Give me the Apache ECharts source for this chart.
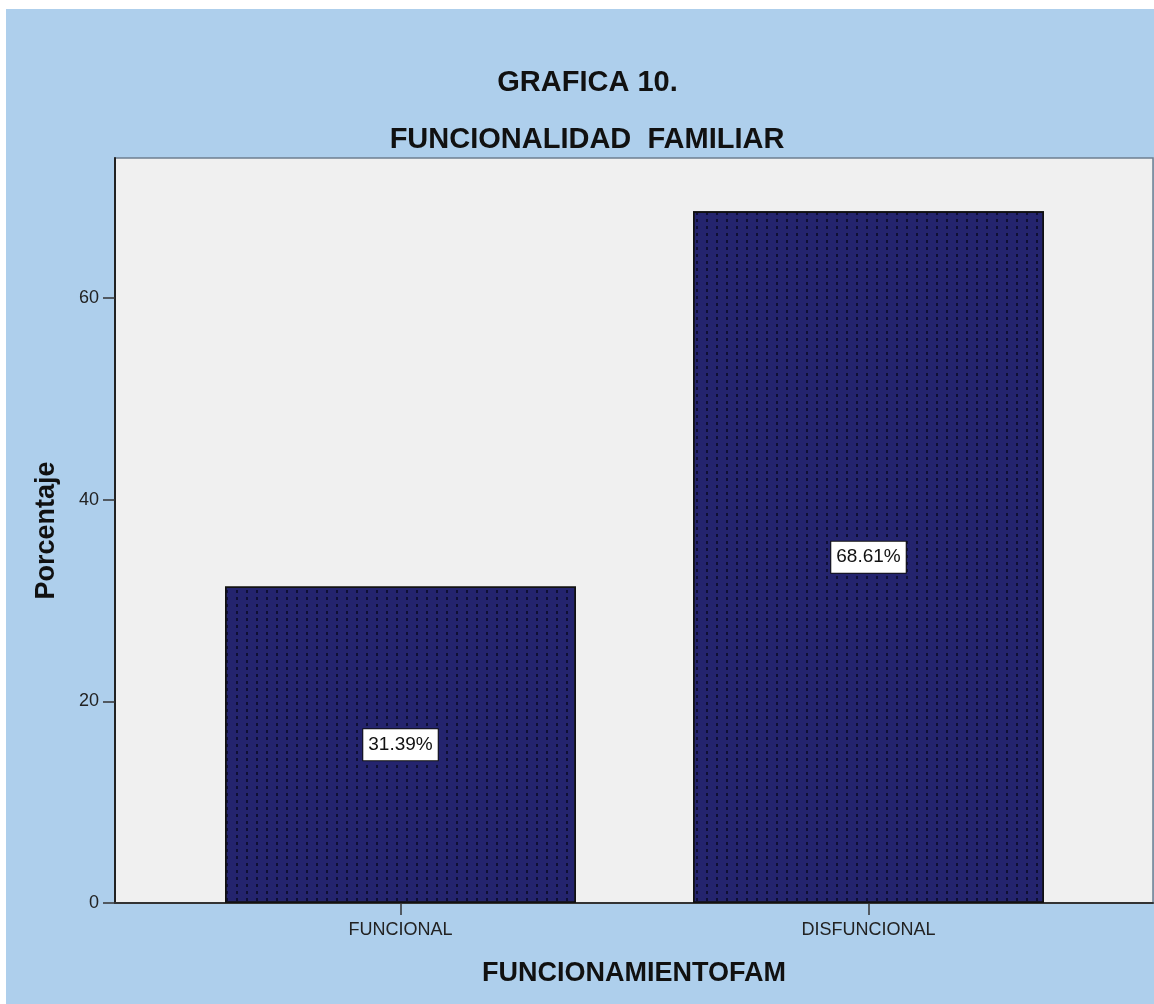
<!DOCTYPE html>
<html>
<head>
<meta charset="utf-8">
<script src="https://cdn.jsdelivr.net/npm/echarts@6/dist/echarts.min.js"></script>
<style>
html,body{margin:0;padding:0;background:#ffffff;}
#c{position:absolute;left:6px;top:9px;width:1148px;height:995px;}
</style>
</head>
<body>
<div id="c"></div>
<script>
const titleMain = 'GRAFICA 10.';
const titleSub = 'FUNCIONALIDAD  FAMILIAR';
const categories = ['FUNCIONAL', 'DISFUNCIONAL'];
const percentages = [31.39, 68.61];
const yTicks = [0, 20, 40, 60];
const yMax = 73.9;
const xName = 'FUNCIONAMIENTOFAM';
const yName = 'Porcentaje';

const FONT = "'Liberation Sans', Arial, sans-serif";
const chart = echarts.init(document.getElementById('c'), null, {renderer: 'canvas'});

chart.setOption({
  backgroundColor: '#aecfec',
  animation: false,
  title: [
    {text: titleMain, left: 581.5, top: 59, textAlign: 'center', padding: 0,
     textStyle: {fontFamily: FONT, fontSize: 29, fontWeight: 'bold', color: '#111', lineHeight: 30}},
    {text: titleSub, left: 581, top: 116, textAlign: 'center', padding: 0,
     textStyle: {fontFamily: FONT, fontSize: 29, fontWeight: 'bold', color: '#111', lineHeight: 30}}
  ],
  grid: [
    {left: 109, top: 149, right: 1, bottom: 101, show: true, backgroundColor: '#f0f0f0',
     borderColor: '#6d7f90', borderWidth: 1.5},
    {left: 160.5, top: 149, right: 51.5, bottom: 101, show: false}
  ],
  xAxis: [
    {gridIndex: 0, type: 'value', min: 0, max: 1,
     axisLine: {show: true, onZero: false, lineStyle: {color: '#333', width: 2}},
     axisTick: {show: false}, axisLabel: {show: false}, splitLine: {show: false},
     name: xName, nameLocation: 'middle', nameGap: 57,
     nameTextStyle: {fontFamily: FONT, fontSize: 27, fontWeight: 'bold', color: '#111'}},
    {gridIndex: 1, type: 'category', data: categories,
     axisLine: {show: false},
     axisTick: {show: true, alignWithLabel: true, length: 12, lineStyle: {color: '#333', width: 1.5}},
     axisLabel: {fontFamily: FONT, fontSize: 18, color: '#222', margin: 18},
     splitLine: {show: false}}
  ],
  yAxis: [
    {gridIndex: 0, type: 'value', min: 0, max: yMax,
     axisLine: {show: true, onZero: false, lineStyle: {color: '#222', width: 2}},
     axisTick: {show: true, inside: false, length: 12, customValues: yTicks, lineStyle: {color: '#333', width: 1.5}},
     axisLabel: {fontFamily: FONT, fontSize: 18, color: '#222', margin: 16, customValues: yTicks},
     splitLine: {show: false},
     name: yName, nameLocation: 'middle', nameGap: 55,
     nameTextStyle: {fontFamily: FONT, fontSize: 27, fontWeight: 'bold', color: '#111'}},
    {gridIndex: 1, type: 'value', min: 0, max: yMax, show: false, splitLine: {show: false}}
  ],
  series: [{
    type: 'bar',
    xAxisIndex: 1,
    yAxisIndex: 1,
    data: percentages,
    barCategoryGap: '25%',
    itemStyle: {
      color: '#24246e',
      borderColor: '#111',
      borderWidth: 1.5,
      decal: {
        symbol: 'rect',
        symbolSize: 1,
        color: 'rgba(8,8,35,0.75)',
        dashArrayX: [[1.5, 7.8]],
        dashArrayY: [3, 4]
      }
    },
    label: {
      show: true,
      position: 'inside',
      formatter: '{c}%',
      fontFamily: FONT,
      fontSize: 19,
      lineHeight: 21,
      color: '#111',
      backgroundColor: '#ffffff',
      borderColor: '#111',
      borderWidth: 1,
      padding: [5, 5]
    }
  }]
});
</script>
</body>
</html>
